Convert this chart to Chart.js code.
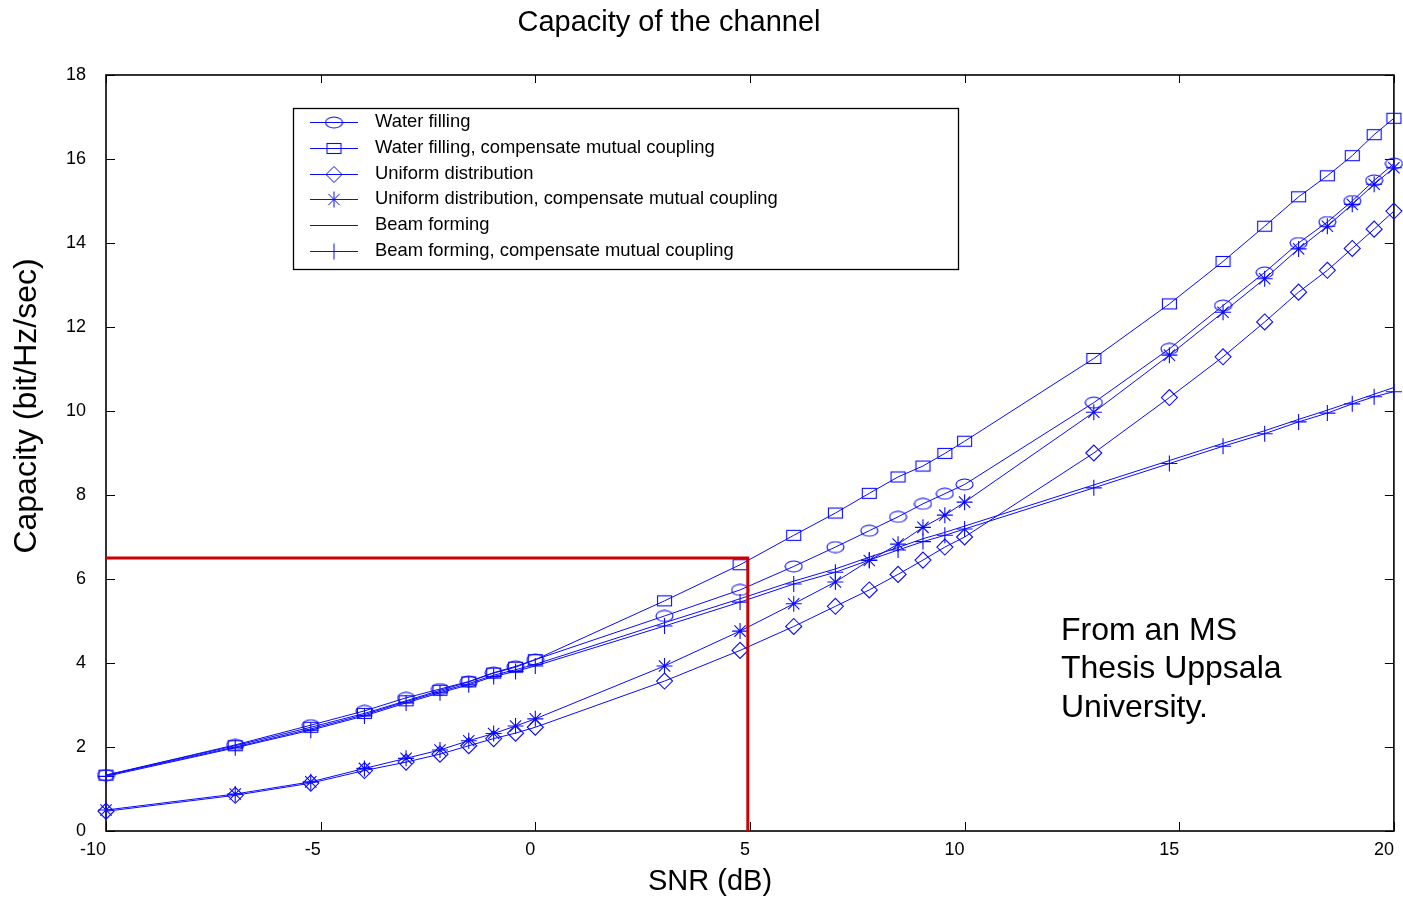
<!DOCTYPE html>
<html>
<head>
<meta charset="utf-8">
<title>Capacity of the channel</title>
<script src="https://cdn.jsdelivr.net/npm/chart.js@4.4.1/dist/chart.umd.min.js"></script>
<style>
  html, body { margin: 0; padding: 0; background: #fff; }
  #wrap { width: 1403px; height: 899px; }
</style>
</head>
<body>
<div id="wrap"><canvas id="chart" width="1403" height="899"></canvas></div>
<script>
const FONT = '"Liberation Sans", Arial, sans-serif'
const BLUE = '#0a0aff'

const chartTitle = 'Capacity of the channel'
const xTitle = 'SNR (dB)'
const yTitle = 'Capacity (bit/Hz/sec)'
const noteLines = ['From an MS', 'Thesis Uppsala', 'University.']

// SNR points in dB
const snrDb = [-10, -6.99, -5.23, -3.98, -3.01, -2.22, -1.55, -0.97, -0.46, 0,
  3.01, 4.77, 6.02, 6.99, 7.78, 8.45, 9.03, 9.54, 10,
  13.01, 14.77, 16.02, 16.99, 17.78, 18.45, 19.03, 19.54, 20]

const seriesLabels = [
  'Water filling',
  'Water filling, compensate mutual coupling',
  'Uniform distribution',
  'Uniform distribution, compensate mutual coupling',
  'Beam forming',
  'Beam forming, compensate mutual coupling'
]

const waterFilling = [1.33, 2.05, 2.52, 2.86, 3.17, 3.38, 3.56, 3.77, 3.92, 4.08,
  5.12, 5.74, 6.3, 6.76, 7.15, 7.48, 7.79, 8.03, 8.25,
  10.2, 11.48, 12.51, 13.3, 14.0, 14.5, 15.0, 15.49, 15.89]
const waterFillingComp = [1.33, 2.03, 2.47, 2.8, 3.1, 3.35, 3.55, 3.76, 3.9, 4.08,
  5.48, 6.34, 7.04, 7.57, 8.04, 8.43, 8.69, 8.99, 9.28,
  11.25, 12.55, 13.56, 14.4, 15.1, 15.6, 16.08, 16.58, 16.97]
const uniform = [0.47, 0.85, 1.14, 1.44, 1.64, 1.83, 2.03, 2.2, 2.33, 2.47,
  3.57, 4.3, 4.87, 5.35, 5.74, 6.11, 6.45, 6.76, 7.0,
  9.0, 10.32, 11.29, 12.12, 12.83, 13.35, 13.87, 14.33, 14.76]
const uniformComp = [0.5, 0.88, 1.17, 1.49, 1.73, 1.93, 2.15, 2.32, 2.5, 2.67,
  3.93, 4.76, 5.41, 5.93, 6.44, 6.83, 7.23, 7.52, 7.83,
  9.97, 11.33, 12.35, 13.15, 13.86, 14.4, 14.92, 15.4, 15.79]
const beamForming = [1.32, 2.0, 2.43, 2.77, 3.08, 3.32, 3.51, 3.71, 3.84, 3.97,
  4.96, 5.53, 5.95, 6.24, 6.52, 6.75, 6.96, 7.11, 7.26,
  8.24, 8.82, 9.23, 9.53, 9.8, 10.02, 10.22, 10.4, 10.56]
const beamFormingComp = [1.3, 1.98, 2.4, 2.74, 3.05, 3.29, 3.48, 3.68, 3.8, 3.93,
  4.88, 5.45, 5.88, 6.16, 6.45, 6.69, 6.89, 7.04, 7.19,
  8.17, 8.75, 9.16, 9.46, 9.74, 9.95, 10.17, 10.34, 10.46]

// red guide lines (SNR, capacity)
const guideX = [-10, 4.95, 4.95]
const guideY = [6.5, 6.5, 0]

// marker images for the shapes Chart.js does not have (ellipse, flat box)
function markerCanvas(w, h, draw) {
  const c = document.createElement('canvas')
  c.width = w
  c.height = h
  const g = c.getContext('2d')
  g.strokeStyle = BLUE
  g.lineWidth = 1.1
  draw(g, w, h)
  return c
}
const ellipseMark = markerCanvas(19, 13, (g, w, h) => {
  g.beginPath()
  g.ellipse(w / 2, h / 2, w / 2 - 1, h / 2 - 1, 0, 0, Math.PI * 2)
  g.stroke()
})
const boxMark = markerCanvas(17, 13, (g, w, h) => {
  g.strokeRect(1.5, 1.5, w - 3, h - 3)
})

const seriesData = [waterFilling, waterFillingComp, uniform, uniformComp, beamForming, beamFormingComp]
const seriesStyles = [ellipseMark, boxMark, 'rectRot', 'star', false, 'cross']
const seriesRadius = [7, 7, 8, 8, 0, 8]

function toPoints(xs, ys) {
  return xs.map((x, i) => ({ x: x, y: ys[i] }))
}

const datasets = [{
  label: 'guide',
  data: toPoints(guideX, guideY),
  borderColor: '#cc0000',
  borderWidth: 3,
  pointRadius: 0,
  clip: false
}]
seriesData.forEach((ys, i) => {
  datasets.push({
    label: seriesLabels[i],
    data: toPoints(snrDb, ys),
    borderColor: BLUE,
    borderWidth: 1,
    backgroundColor: 'rgba(0,0,0,0)',
    pointStyle: seriesStyles[i],
    pointRadius: seriesRadius[i],
    pointBorderColor: BLUE,
    pointBackgroundColor: 'rgba(0,0,0,0)',
    pointBorderWidth: 1.1,
    tension: 0,
    clip: false
  })
})

// box and inward tick marks on all four sides
const framePlugin = {
  id: 'frame',
  beforeDatasetsDraw(chart) {
    const { ctx, chartArea: a, scales } = chart
    ctx.save()
    ctx.strokeStyle = '#000'
    ctx.lineWidth = 1
    ctx.beginPath()
    scales.x.ticks.forEach(t => {
      const px = Math.round(scales.x.getPixelForValue(t.value)) + 0.5
      ctx.moveTo(px, a.bottom); ctx.lineTo(px, a.bottom - 9)
      ctx.moveTo(px, a.top); ctx.lineTo(px, a.top + 8)
    })
    scales.y.ticks.forEach(t => {
      const py = Math.round(scales.y.getPixelForValue(t.value)) + 0.5
      ctx.moveTo(a.left, py); ctx.lineTo(a.left + 9, py)
      ctx.moveTo(a.right, py); ctx.lineTo(a.right - 9, py)
    })
    ctx.stroke()
    ctx.lineWidth = 1.6
    ctx.strokeRect(a.left, a.top, a.right - a.left, a.bottom - a.top)
    ctx.restore()
  }
}

function drawLegendMarker(ctx, style, x, y) {
  if (!style) return
  if (typeof style !== 'string') {
    ctx.drawImage(style, x - style.width / 2, y - style.height / 2)
    return
  }
  const r = 8
  ctx.beginPath()
  if (style === 'rectRot') {
    ctx.moveTo(x, y - r); ctx.lineTo(x + r, y); ctx.lineTo(x, y + r); ctx.lineTo(x - r, y); ctx.closePath()
  } else {
    ctx.moveTo(x - r, y); ctx.lineTo(x + r, y)
    ctx.moveTo(x, y - r); ctx.lineTo(x, y + r)
    if (style === 'star') {
      const d = r * Math.SQRT1_2
      ctx.moveTo(x - d, y - d); ctx.lineTo(x + d, y + d)
      ctx.moveTo(x - d, y + d); ctx.lineTo(x + d, y - d)
    }
  }
  ctx.stroke()
}

const legendPlugin = {
  id: 'boxLegend',
  afterDraw(chart) {
    const ctx = chart.ctx
    ctx.save()
    ctx.fillStyle = '#fff'
    ctx.fillRect(293, 108, 665, 161)
    ctx.strokeStyle = '#000'
    ctx.lineWidth = 1.3
    ctx.strokeRect(293.5, 108.5, 665, 161)
    seriesLabels.forEach((label, i) => {
      const y = 122 + i * 25.8
      ctx.strokeStyle = BLUE
      ctx.lineWidth = 1
      ctx.beginPath()
      ctx.moveTo(310, Math.round(y) + 0.5)
      ctx.lineTo(358, Math.round(y) + 0.5)
      ctx.stroke()
      drawLegendMarker(ctx, seriesStyles[i], 334, Math.round(y) + 0.5)
      ctx.fillStyle = '#000'
      ctx.font = '18.4px ' + FONT
      ctx.textAlign = 'left'
      ctx.textBaseline = 'middle'
      ctx.fillText(label, 375, y)
    })
    ctx.restore()
  }
}

const textPlugin = {
  id: 'texts',
  afterDraw(chart) {
    const ctx = chart.ctx
    ctx.save()
    ctx.fillStyle = '#000'
    ctx.textAlign = 'center'
    ctx.textBaseline = 'middle'
    ctx.font = '29px ' + FONT
    ctx.fillText(chartTitle, 669, 23)
    ctx.font = '29px ' + FONT
    ctx.fillText(xTitle, 710, 882)
    ctx.save()
    ctx.translate(27, 406)
    ctx.rotate(-Math.PI / 2)
    ctx.font = '32px ' + FONT
    ctx.fillText(yTitle, 0, 0)
    ctx.restore()
    ctx.textAlign = 'left'
    ctx.font = '32px ' + FONT
    noteLines.forEach((line, i) => ctx.fillText(line, 1061, 631 + i * 38.5))
    ctx.restore()
  }
}

new Chart(document.getElementById('chart'), {
  type: 'line',
  data: { datasets: datasets },
  options: {
    responsive: false,
    animation: false,
    devicePixelRatio: 1,
    layout: { padding: { top: 75, right: 9, bottom: 0, left: 0 } },
    plugins: {
      legend: { display: false },
      title: { display: false },
      tooltip: { enabled: false }
    },
    scales: {
      x: {
        type: 'linear',
        min: -10,
        max: 20,
        ticks: { stepSize: 5, align: 'end', color: '#000', padding: 0, font: { family: FONT, size: 18 } },
        grid: { display: false },
        border: { display: false },
        afterFit(scale) {
          scale.height = 68
          scale.paddingLeft = 0
          scale.paddingRight = 0
        }
      },
      y: {
        min: 0,
        max: 18,
        ticks: { stepSize: 2, color: '#000', padding: 12, font: { family: FONT, size: 18 } },
        grid: { display: false },
        border: { display: false },
        afterFit(scale) { scale.width = 106 }
      }
    }
  },
  plugins: [framePlugin, legendPlugin, textPlugin]
})
</script>
</body>
</html>
